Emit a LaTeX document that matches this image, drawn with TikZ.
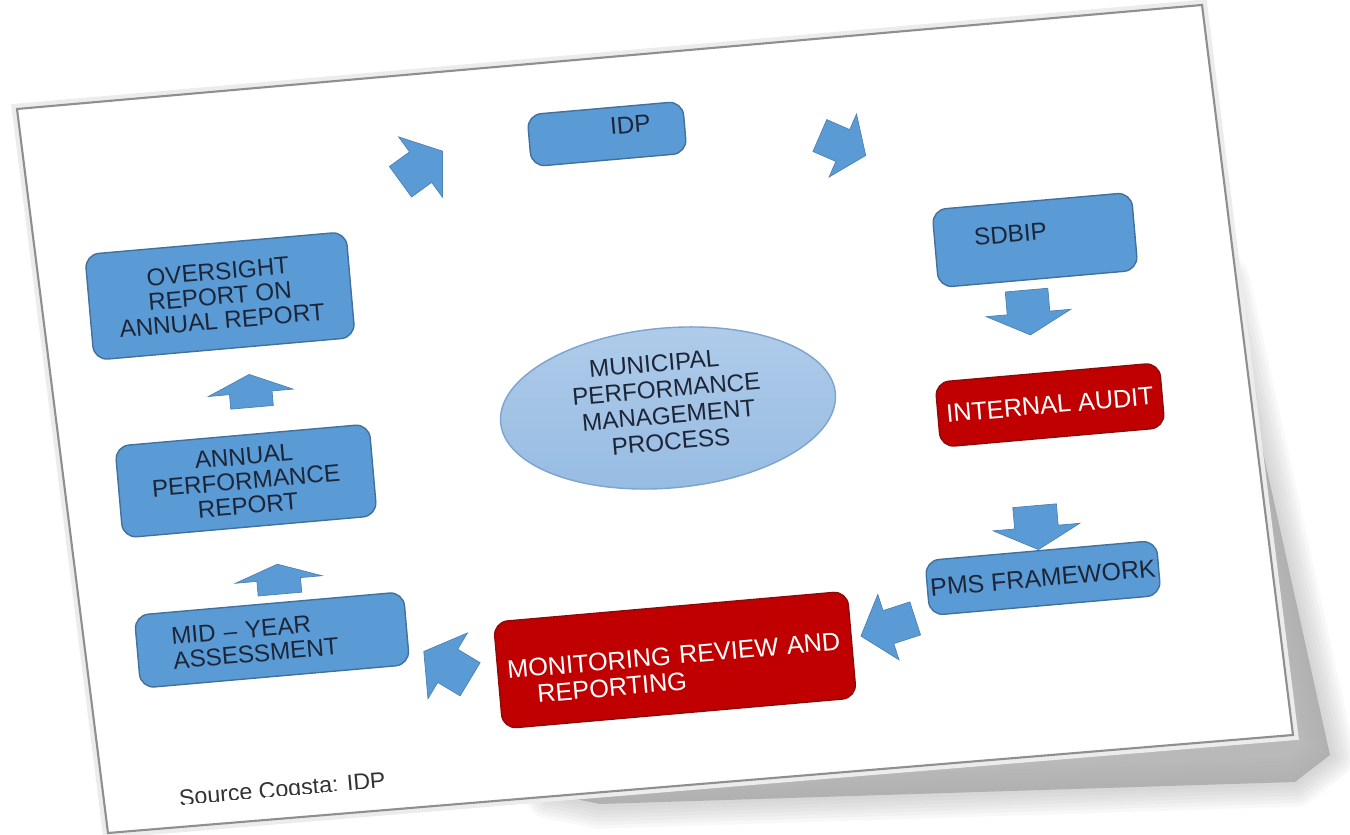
\documentclass[tikz,border=0pt]{standalone}
\usepackage{fontspec}
\setmainfont{Liberation Sans}
\usetikzlibrary{shapes.geometric, shapes.arrows}

\definecolor{boxblue}{HTML}{5B9BD5}
\definecolor{boxline}{HTML}{41719C}
\definecolor{boxred}{HTML}{C00000}
\definecolor{redline}{HTML}{8E0A0A}
\definecolor{txtdark}{HTML}{1C2638}
\definecolor{hubtop}{HTML}{B0CCEA}
\definecolor{hubbottom}{HTML}{96BBE2}
\definecolor{hubline}{HTML}{7DA3CF}
\definecolor{pageline}{HTML}{8F8F8F}
\definecolor{shadowgray}{HTML}{A8A8A8}
\definecolor{srcgray}{HTML}{333333}

\begin{document}
\begin{tikzpicture}[
    stage/.style={rectangle, rounded corners=1.4mm, fill=boxblue, draw=boxline, line width=0.4pt,
      text=txtdark, align=center, inner sep=0pt, font=\fontsize{6.9}{7.0}\selectfont,
      rotate=5, transform shape},
    hotbox/.style={stage, fill=boxred, draw=redline, text=white, font=\fontsize{7.2}{7.5}\selectfont},
    hub/.style={ellipse, top color=hubtop, bottom color=hubbottom, draw=hubline, line width=0.4pt,
      text=txtdark, align=center, inner sep=0pt, font=\fontsize{6.9}{7.5}\selectfont,
      rotate=5, transform shape},
    flow/.style n args={4}{single arrow, fill=boxblue, draw=boxline!60!boxblue, line width=0.2pt,
      inner xsep=0pt, minimum width=0pt, rotate=#1, minimum height=#2, inner ysep=#3,
      single arrow head extend=#3, single arrow tip angle=#4, transform shape}
  ]
  \useasboundingbox (0,0) rectangle (13.5,-8.35);
  \fill[white] (0,0) rectangle (13.5,-8.35);

  % page shadow
  \foreach \w in {14,12,...,2}
    \draw[shadowgray, line width=\w pt, opacity=0.08, line join=round]
      (12.25,-2.8) -- (13.3,-7.55) -- (12.95,-7.82) -- (6.0,-8.04) -- (5.5,-7.94) -- cycle;
  \fill[shadowgray, opacity=0.8] (12.25,-2.8) -- (13.3,-7.55) -- (12.95,-7.82) -- (6.0,-8.04) -- (5.5,-7.94) -- cycle;

  % page
  \draw[gray!15, line width=3pt] (0.17,-1.09) -- (12.02,-0.05) -- (12.93,-7.35) -- (1.08,-8.33) -- cycle;
  \draw[pageline, fill=white, line width=0.6pt] (0.17,-1.09) -- (12.02,-0.05) -- (12.93,-7.35) -- (1.08,-8.33) -- cycle;

  % stages
  \node[stage, minimum width=1.56cm, minimum height=0.52cm] (idp) at (6.07,-1.34) {\hspace*{4.8mm}IDP\rule[-1.4mm]{0pt}{0pt}};
  \node[stage, minimum width=2.0cm, minimum height=0.78cm] (sdbip) at (10.35,-2.40) {SDBIP\hspace*{4.8mm}\rule[-1.6mm]{0pt}{0pt}};
  \node[hotbox, minimum width=2.25cm, minimum height=0.65cm] (audit) at (10.50,-4.05) {INTERNAL AUDIT};
  \node[stage, font=\fontsize{7.1}{7.1}\selectfont, minimum width=2.32cm, minimum height=0.55cm] (pms) at (10.43,-5.78) {PMS FRAMEWORK};
  \node[hotbox, minimum width=3.55cm, minimum height=1.07cm, text width=3.36cm, align=left] (monitor) at (6.75,-6.60)
    {\rule{0pt}{3.5mm}MONITORING REVIEW AND\\\hspace*{2.8mm}REPORTING};
  \node[stage, minimum width=2.70cm, minimum height=0.73cm, text width=2.0cm, align=left] (midyear) at (2.72,-6.40) {MID – YEAR\\ASSESSMENT};
  \node[stage, minimum width=2.55cm, minimum height=0.92cm] (annual) at (2.46,-4.81) {ANNUAL\\PERFORMANCE\\REPORT};
  \node[stage, minimum width=2.62cm, minimum height=1.06cm] (oversight) at (2.20,-2.96) {OVERSIGHT\\REPORT ON\\ANNUAL REPORT};

  \node[hub, minimum width=3.36cm, minimum height=1.6cm] (mpmp) at (6.68,-4.08)
    {MUNICIPAL\hspace*{2mm}\\PERFORMANCE\hspace*{2mm}\\MANAGEMENT\hspace*{2mm}\\PROCESS\rule[-1.2mm]{0pt}{0pt}};

  % block arrows round the cycle
  \node[flow={36}{0.52cm}{0.185cm}{108}] (a1) at (4.16,-1.705) {};
  \node[flow={-23.5}{0.50cm}{0.17cm}{108}] (a2) at (8.37,-1.43) {};
  \node[flow={-85}{0.45cm}{0.21cm}{125}] (a3) at (10.28,-3.07) {};
  \node[flow={-85}{0.44cm}{0.215cm}{125}] (a4) at (10.36,-5.22) {};
  \node[flow={198}{0.57cm}{0.17cm}{100}] (a5) at (8.95,-6.25) {};
  \node[flow={149}{0.54cm}{0.19cm}{108}] (a6) at (4.53,-6.69) {};
  \node[flow={95}{0.30cm}{0.215cm}{141}] (a7) at (2.79,-5.83) {};
  \node[flow={95}{0.33cm}{0.21cm}{133}] (a8) at (2.51,-3.955) {};

  % source line, cut off at the foot
  \begin{scope}
    \clip (1.5,-8.07) -- (4.2,-7.835) -- (4.2,-7.3) -- (1.5,-7.3) -- cycle;
    \node[anchor=base, inner sep=0pt, rotate=5, transform shape, text=srcgray,
      font=\fontsize{6.6}{6.6}\selectfont] (source) at (2.83,-7.97) {Source Cogsta: IDP};
  \end{scope}
\end{tikzpicture}
\end{document}
